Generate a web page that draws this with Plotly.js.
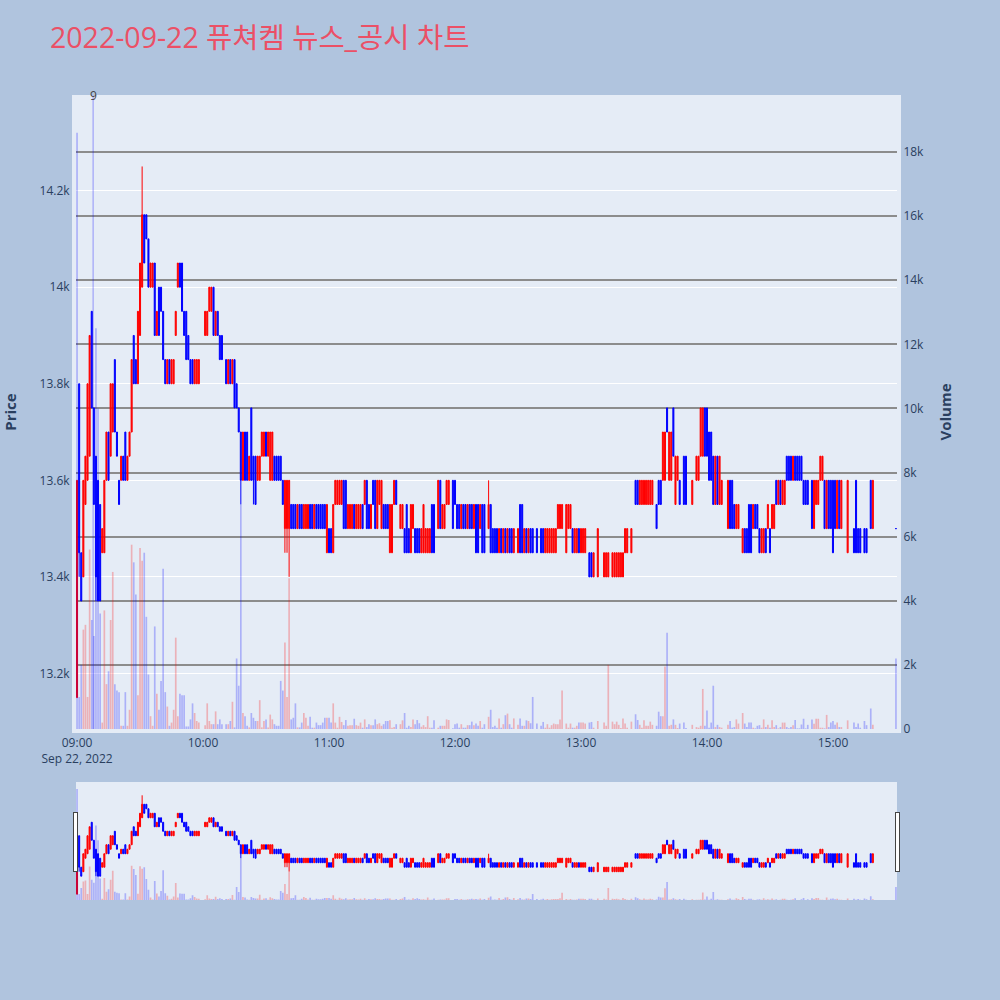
<!DOCTYPE html>
<html>
<head>
<meta charset="utf-8">
<script src="https://cdn.plot.ly/plotly-3.0.1.min.js"></script>
<style>body{margin:0;} #myDiv{width:1000px;height:1000px;}</style>
</head>
<body>
<div id="myDiv"></div>
<script>
// 1-minute bars, 09:00 .. 15:20, then the 15:30 closing auction (null = no trade)
var open = [
13150,13800,13450,13400,13550,13600,13650,13950,13750,13650,
13600,13550,13450,13450,13600,13700,13650,13700,13850,13700,
13600,13600,13650,13700,13600,13650,13700,13900,13850,13800,
13900,14000,14150,14150,14100,14000,14000,14050,13900,14000,
14000,13950,13850,13800,13850,13800,13800,13900,14000,14050,
14050,13950,13950,13900,13850,13850,13800,13800,13800,null,
null,13900,13900,13950,13950,14000,13900,13950,13900,13900,
null,13850,13800,13850,13800,13850,13800,13750,13700,13600,
13700,13700,13600,13750,13650,13650,13600,13600,13650,13650,
13700,13650,13600,13600,13650,13650,13650,13650,13600,13500,
13500,13500,13550,13550,13550,13500,13550,13550,13500,13500,
13500,13550,13550,13500,13550,13550,13550,13550,13550,13450,
13500,13500,13450,13550,13550,13550,13550,13600,13600,13500,
13500,13500,13550,13500,13500,13500,13550,13550,13600,13550,
13500,13600,13600,13500,13550,13500,13550,13550,13550,13450,
13450,13550,13600,null,13500,13500,13500,13550,13500,13450,
13500,13500,13500,13500,13450,13450,13450,13450,13450,13550,
13550,null,13500,13600,13500,13500,13550,13550,null,13600,
13600,13550,13550,13500,13550,13550,13500,13550,13550,13500,
13550,13550,13500,13550,13550,null,13500,13550,13500,13500,
13500,13450,13500,13450,13500,13450,13500,13500,13450,null,
13450,13550,13550,13450,13500,13450,13500,13500,null,13500,
null,13500,13500,13450,13450,13450,13450,13450,13450,13500,
13500,13500,null,13450,13500,13500,13500,13450,13450,13500,
13450,13450,13450,null,13450,13450,13400,null,13400,null,
null,13400,13400,13400,null,13400,13400,13400,13400,13400,
13400,13450,13450,null,13450,null,13600,13600,13550,13550,
13550,13550,13550,13550,13550,null,13550,13600,13600,13600,
13600,13750,13600,13600,13750,13550,13600,13600,null,13650,
13650,null,null,13550,null,13600,13600,13650,13650,13750,
13750,13700,13700,13650,13550,13650,13550,13550,null,null,
13500,13600,13600,13550,13500,13500,null,13450,13500,13500,
13550,13550,13500,13550,13550,13500,13450,13450,13500,13500,
13500,13500,13500,13600,13550,13600,13550,13550,13650,13650,
13650,13600,13650,13650,13650,13650,13600,13600,13600,null,
13600,13500,13550,13550,13600,13600,13600,13500,13600,13600,
13600,13600,13500,13600,13500,null,null,13450,null,null,
13500,13600,13500,13500,null,13500,13500,null,13600,13500,
null,13500];

var high = [
13600,13800,13450,13600,13650,13800,13900,13950,13750,13650,
13600,13550,13500,13600,13700,13700,13800,13800,13850,13700,
13600,13650,13650,13700,13650,13700,13850,13900,13850,13950,
14050,14250,14150,14150,14100,14050,14050,14050,13950,14000,
14000,13950,13850,13850,13850,13850,13850,13950,14050,14050,
14050,13950,13950,13900,13850,13850,13850,13850,13850,null,
null,13950,13950,14000,14000,14000,13950,13950,13900,13900,
null,13850,13850,13850,13850,13850,13800,13750,13700,13700,
13700,13700,13650,13750,13650,13650,13650,13650,13700,13700,
13700,13700,13700,13700,13650,13650,13650,13650,13600,13600,
13600,13600,13550,13550,13550,13550,13550,13550,13550,13550,
13550,13550,13550,13550,13550,13550,13550,13550,13550,13550,
13500,13500,13550,13600,13600,13600,13600,13600,13600,13550,
13550,13550,13550,13550,13550,13550,13550,13600,13600,13550,
13550,13600,13600,13600,13600,13600,13550,13550,13550,13550,
13550,13600,13600,null,13550,13550,13500,13550,13500,13550,
13550,13500,13500,13500,13500,13550,13500,13500,13500,13550,
13550,null,13600,13600,13550,13550,13600,13600,null,13600,
13600,13550,13550,13550,13550,13550,13550,13550,13550,13550,
13550,13550,13550,13550,13550,null,13600,13550,13500,13500,
13500,13500,13500,13500,13500,13500,13500,13500,13500,null,
13500,13550,13550,13500,13500,13500,13500,13500,null,13500,
null,13500,13500,13500,13500,13500,13500,13500,13500,13550,
13550,13550,null,13550,13550,13550,13500,13500,13500,13500,
13500,13500,13500,null,13450,13450,13450,null,13500,null,
null,13450,13450,13450,null,13450,13450,13450,13450,13450,
13450,13500,13500,null,13500,null,13600,13600,13600,13600,
13600,13600,13600,13600,13600,null,13550,13600,13600,13700,
13700,13750,13700,13700,13750,13650,13650,13600,null,13650,
13650,null,null,13600,null,13650,13650,13750,13750,13750,
13750,13700,13700,13650,13650,13650,13650,13600,null,null,
13600,13600,13600,13550,13550,13550,null,13500,13500,13500,
13550,13550,13550,13550,13550,13500,13500,13500,13500,13550,
13500,13550,13550,13600,13600,13600,13600,13600,13650,13650,
13650,13650,13650,13650,13650,13650,13600,13600,13600,null,
13600,13600,13600,13600,13650,13650,13600,13600,13600,13600,
13600,13600,13600,13600,13600,null,null,13600,null,null,
13500,13600,13500,13500,null,13500,13500,null,13600,13600,
null,13500];

var low = [
13150,13400,13350,13400,13550,13600,13650,13750,13550,13350,
13350,13350,13450,13450,13600,13600,13650,13700,13700,13650,
13550,13600,13600,13600,13600,13650,13700,13800,13800,13800,
13900,14000,14050,14100,14000,14000,14000,13900,13900,13900,
13950,13850,13800,13800,13800,13800,13800,13900,14000,14000,
13950,13900,13850,13850,13800,13800,13800,13800,13800,null,
null,13900,13900,13950,13950,13900,13900,13900,13850,13850,
null,13800,13800,13800,13800,13750,13750,13700,13550,13600,
13600,13600,13600,13600,13550,13550,13600,13600,13650,13650,
13650,13650,13600,13600,13600,13600,13600,13600,13550,13450,
13450,13400,13500,13500,13500,13500,13500,13500,13500,13500,
13500,13500,13500,13500,13500,13500,13500,13500,13500,13450,
13450,13450,13450,13550,13550,13550,13550,13500,13500,13500,
13500,13500,13500,13500,13500,13500,13500,13550,13500,13500,
13500,13550,13500,13500,13550,13500,13500,13500,13500,13450,
13450,13550,13550,null,13500,13500,13450,13450,13450,13450,
13500,13450,13450,13450,13450,13450,13450,13450,13450,13450,
13450,null,13500,13500,13500,13500,13550,13550,null,13500,
13550,13500,13500,13500,13500,13500,13500,13500,13500,13500,
13450,13450,13500,13450,13450,null,13500,13450,13450,13450,
13450,13450,13450,13450,13450,13450,13450,13450,13450,null,
13450,13450,13450,13450,13450,13450,13450,13450,null,13450,
null,13450,13450,13450,13450,13450,13450,13450,13450,13500,
13500,13500,null,13450,13500,13500,13450,13450,13450,13450,
13450,13450,13450,null,13400,13400,13400,null,13400,null,
null,13400,13400,13400,null,13400,13400,13400,13400,13400,
13400,13450,13450,null,13450,null,13550,13550,13550,13550,
13550,13550,13550,13550,13550,null,13500,13550,13550,13600,
13600,13700,13600,13600,13650,13550,13600,13550,null,13550,
13550,null,null,13550,null,13600,13600,13650,13650,13650,
13650,13600,13600,13550,13550,13550,13550,13550,null,null,
13500,13500,13500,13500,13500,13500,null,13450,13450,13450,
13450,13450,13500,13500,13500,13450,13450,13450,13450,13500,
13450,13500,13500,13550,13550,13550,13550,13550,13600,13600,
13600,13600,13600,13600,13600,13600,13550,13550,13550,null,
13500,13500,13550,13550,13600,13600,13500,13500,13500,13500,
13450,13500,13500,13500,13500,null,null,13450,null,null,
13450,13450,13450,13450,null,13450,13450,null,13500,13500,
null,13500];

var close = [
13600,13450,13350,13600,13650,13800,13900,13750,13550,13400,
13350,13350,13500,13600,13700,13600,13800,13800,13700,13650,
13550,13650,13600,13600,13650,13700,13850,13800,13800,13950,
14050,14150,14050,14100,14000,14050,14050,13900,13950,13900,
13950,13850,13800,13850,13800,13850,13850,13950,14050,14000,
13950,13900,13850,13850,13800,13800,13850,13850,13850,null,
null,13950,13950,14000,14000,13900,13950,13900,13850,13850,
null,13800,13850,13800,13850,13750,13750,13700,13600,13700,
13600,13600,13650,13600,13600,13550,13650,13650,13700,13700,
13650,13700,13700,13700,13600,13600,13600,13600,13550,13600,
13600,13600,13500,13500,13500,13550,13500,13500,13550,13550,
13550,13500,13500,13550,13500,13500,13500,13500,13500,13550,
13450,13450,13550,13600,13600,13600,13600,13500,13500,13550,
13550,13550,13500,13550,13550,13550,13500,13600,13500,13500,
13550,13550,13500,13600,13600,13600,13500,13500,13500,13550,
13550,13600,13550,null,13550,13550,13450,13450,13450,13550,
13550,13450,13450,13450,13500,13550,13500,13500,13500,13450,
13450,null,13600,13500,13550,13550,13600,13600,null,13500,
13550,13500,13500,13550,13500,13500,13550,13500,13500,13550,
13450,13450,13550,13450,13450,null,13550,13450,13450,13450,
13450,13500,13450,13500,13450,13500,13450,13450,13500,null,
13500,13450,13450,13500,13450,13500,13450,13450,null,13450,
null,13450,13450,13500,13500,13500,13500,13500,13500,13550,
13550,13550,null,13550,13550,13550,13450,13500,13500,13450,
13500,13500,13500,null,13400,13400,13450,null,13500,null,
null,13450,13450,13450,null,13450,13450,13450,13450,13450,
13450,13500,13500,null,13500,null,13550,13550,13600,13600,
13600,13600,13600,13600,13600,null,13500,13550,13550,13700,
13700,13700,13700,13700,13650,13650,13650,13550,null,13550,
13550,null,null,13600,null,13650,13650,13750,13750,13650,
13650,13600,13600,13550,13650,13550,13650,13600,null,null,
13600,13500,13500,13500,13550,13550,null,13500,13450,13450,
13450,13450,13550,13500,13500,13450,13500,13500,13450,13550,
13450,13550,13550,13550,13600,13550,13600,13600,13600,13600,
13600,13650,13600,13600,13600,13600,13550,13550,13550,null,
13500,13600,13600,13600,13650,13650,13500,13600,13500,13500,
13450,13500,13600,13500,13600,null,null,13600,null,null,
13450,13450,13450,13450,null,13450,13450,null,13500,13600,
null,13500];

var volume = [
18600,1000,2000,3100,3250,1000,5600,3400,2900,12500,
10000,3600,200,3700,1400,1800,3400,4900,1400,1200,
1150,100,100,1150,100,600,5750,5200,4200,1050,
5650,5250,5500,3500,1700,400,100,3200,1100,600,
1500,5000,1150,700,100,200,600,2850,400,1100,
1050,1050,80,80,300,800,500,250,200,null,
null,120,800,250,150,150,550,150,300,150,
null,150,150,250,850,50,2200,1350,7000,500,
400,100,50,500,350,250,250,900,50,250,
300,50,450,300,150,100,100,1500,1200,2700,
1000,4700,300,350,800,50,50,200,500,350,
100,380,40,40,200,120,120,200,350,350,
350,200,800,200,40,380,220,120,280,100,
120,120,320,120,100,200,40,300,60,150,
120,120,300,150,180,100,150,250,250,270,
40,60,150,null,150,270,500,40,100,60,
300,150,280,180,70,120,60,400,40,40,
270,null,40,100,100,100,300,280,null,20,
150,170,40,150,40,40,120,120,230,120,
170,100,250,40,150,null,380,600,60,100,
40,330,40,150,430,480,150,40,330,null,
130,330,100,100,270,250,180,1000,null,170,
null,100,220,40,150,40,120,170,150,150,
300,1200,null,170,40,170,40,40,100,200,
200,200,170,null,200,220,40,null,250,null,
null,200,100,2000,null,230,150,230,130,30,
330,170,40,null,230,null,460,280,130,40,
270,100,100,230,130,null,100,540,400,400,
1950,3000,100,130,300,130,30,170,null,200,
30,null,null,130,null,60,40,100,1250,100,
580,40,200,1350,60,130,60,40,null,null,
130,250,40,60,300,170,null,500,170,60,
200,200,40,20,100,120,40,300,60,130,
40,270,60,120,20,60,200,200,60,20,
60,120,280,20,20,140,320,20,130,null,
300,160,320,320,40,40,20,440,60,200,
250,130,200,60,60,null,null,270,null,null,
200,60,170,40,null,250,120,null,640,130,
null,2200];

var newsTime = '2022-09-22 09:07:40';
var newsLabel = '9';

function pad(n) { return (n < 10 ? '0' : '') + n; }
var times = [];
for (var i = 0; i < open.length - 1; i++) {
  var mins = 9 * 60 + i;
  times.push('2022-09-22 ' + pad(Math.floor(mins / 60)) + ':' + pad(mins % 60));
}
times.push('2022-09-22 15:30');

// volume bar takes the colour of its candle; the opening bar has no previous bar and stays blue
var volColors = [];
for (var i = 0; i < open.length; i++) {
  var up = i > 0 && close[i] > open[i];
  volColors.push(up ? 'rgba(255,0,0,0.25)' : 'rgba(0,0,255,0.25)');
}

var candles = {
  type: 'candlestick',
  x: times, open: open, high: high, low: low, close: close,
  increasing: {line: {color: 'red', width: 1}, fillcolor: 'red'},
  decreasing: {line: {color: 'blue', width: 1}, fillcolor: 'blue'},
  name: 'Price',
  showlegend: false
};

var vol = {
  type: 'bar',
  x: times, y: volume,
  yaxis: 'y2',
  marker: {color: volColors, line: {width: 0}},
  name: 'Volume',
  showlegend: false
};

var axisTitleFont = {family: 'Open Sans, sans-serif', size: 15, color: '#2a3f5f', weight: 'bold'};
var edgeLine = {showline: true, linecolor: '#E5ECF6', linewidth: 4};

var layout = {
  width: 1000, height: 1000,
  paper_bgcolor: 'lightsteelblue',
  plot_bgcolor: '#E5ECF6',
  font: {family: 'Open Sans, Noto Sans CJK KR, sans-serif', color: '#2a3f5f', size: 12},
  title: {
    text: '2022-09-22 퓨쳐켐 뉴스_공시 차트',
    font: {family: 'Open Sans, Noto Sans CJK KR, sans-serif', size: 28.5, color: '#EB5066'},
    x: 0.05
  },
  margin: {l: 76, r: 103, t: 95, b: 100},
  showlegend: false,
  xaxis: Object.assign({
    type: 'date',
    showgrid: false,
    zeroline: false,
    rangeslider: {visible: true, bgcolor: '#E5ECF6', thickness: 0.147}
  }, edgeLine),
  yaxis: Object.assign({
    title: {text: 'Price', font: axisTitleFont, standoff: 22},
    range: [13085, 14398],
    gridcolor: 'white',
    zeroline: false
  }, edgeLine),
  yaxis2: Object.assign({
    title: {text: 'Volume', font: axisTitleFont, standoff: 18},
    overlaying: 'y',
    side: 'right',
    range: [0, 19780],
    showgrid: true,
    gridcolor: '#8c8c8c',
    gridwidth: 1.5,
    zeroline: false
  }, edgeLine),
  shapes: [{
    type: 'line', xref: 'x', yref: 'paper',
    x0: newsTime, x1: newsTime, y0: 0, y1: 1,
    line: {color: 'rgba(0,0,255,0.25)', width: 1.5}
  }],
  annotations: [{
    x: newsTime, y: 1, xref: 'x', yref: 'paper', yanchor: 'middle',
    text: newsLabel, showarrow: false,
    font: {size: 12, color: '#444'}
  }]
};

Plotly.newPlot('myDiv', [candles, vol], layout, {displayModeBar: false});
</script>
</body>
</html>
